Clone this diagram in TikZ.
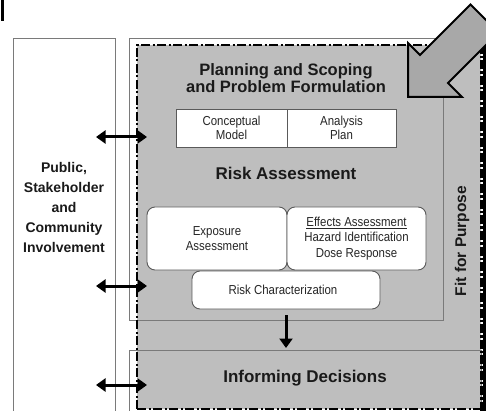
\documentclass[tikz,border=0pt]{standalone}
\usepackage{fontspec}
\setmainfont{Liberation Sans}
\newfontfamily\narrowf[FakeStretch=0.88]{Liberation Sans}
\usetikzlibrary{arrows.meta}
\definecolor{regiongray}{HTML}{BEBEBE}
\definecolor{arrowgray}{HTML}{A8A8A8}
\definecolor{framegray}{HTML}{7A7A7A}
\definecolor{boxline}{HTML}{5A5A5A}
\definecolor{txtdark}{HTML}{1A1A1A}
\definecolor{txtsoft}{HTML}{262626}
\tikzset{
  framebox/.style={draw=framegray, line width=1pt},
  whitebox/.style={draw=boxline, fill=white, line width=0.9pt, inner sep=0pt},
  roundbox/.style={whitebox, rounded corners=8pt},
  smalltext/.style={font=\narrowf\fontsize{13}{14.5}\selectfont, text=txtsoft, align=center},
  boldtext/.style={font=\bfseries\fontsize{17}{17}\selectfont, text=txtdark, align=center},
  dashdotline/.style={line width=2pt, dash pattern=on 9pt off 2.5pt on 2pt off 2.5pt},
  dblarrow/.style={line width=3pt, {Triangle[length=9.5pt,width=13pt]}-{Triangle[length=9.5pt,width=13pt]}},
  downarrow/.style={line width=3pt, -{Triangle[length=9.5pt,width=13pt]}},
  bigarrow/.style={fill=arrowgray, draw=black, line width=2pt, line join=miter}
}
\begin{document}
\begin{tikzpicture}[x=1pt,y=-1pt]
\useasboundingbox (0,0) rectangle (486,411);
% small mark top-left
\draw[line width=2.5pt] (2.5,0) -- (2.5,21);
% left box
\node[draw=framegray, line width=1pt, fill=white, minimum width=102pt, minimum height=380pt, inner sep=0pt, anchor=north west] (pub) at (13,38) {};
\node[font=\bfseries\fontsize{14}{20}\selectfont, text=txtdark, align=center] (pubtext) at (64,207) {Public,\\Stakeholder\\and\\Community\\Involvement};
% gray region
\fill[regiongray] (137,45) rectangle (481,409);
% frames
\node[framebox, minimum width=314pt, minimum height=282pt, inner sep=0pt, anchor=north west] (raframe) at (129,38) {};
\node[framebox, minimum width=352pt, minimum height=70pt, inner sep=0pt, anchor=north west] (idframe) at (129,350) {};
% dash-dot borders
\draw[dashdotline] (137,409) -- (137,45) -- (481,45);
\draw[dashdotline] (137,409) -- (481,409);
\draw[line width=3pt, dash pattern=on 9pt off 2pt on 2.5pt off 2pt] (481.5,45) -- (481.5,411);
\draw[line width=3pt] (484.5,45) -- (484.5,411);
% titles
\node[boldtext, font=\bfseries\fontsize{16.5}{16.5}\selectfont] (plan) at (286,78) {Planning and Scoping\\and Problem Formulation};
\node[boldtext] (ra) at (286,173) {Risk Assessment};
\node[boldtext] (inf) at (305,378) {Informing Decisions};
\node[font=\bfseries\fontsize{15.5}{15.5}\selectfont, text=txtdark, rotate=90] (fit) at (462,241) {Fit for Purpose};
% conceptual model / analysis plan
\node[whitebox, minimum width=111pt, minimum height=38pt] (cm) at (231.5,128) {};
\node[whitebox, minimum width=109pt, minimum height=38pt] (ap) at (341.5,128) {};
\node[smalltext] (cmt) at (231.5,128) {Conceptual\\Model};
\node[smalltext] (apt) at (341.5,128) {Analysis\\Plan};
% assessment boxes
\node[roundbox, minimum width=140pt, minimum height=63pt] (exp) at (217,238.5) {};
\node[smalltext] (expt) at (217,238.5) {Exposure\\Assessment};
\node[roundbox, minimum width=139pt, minimum height=63pt] (eff) at (356.5,238.5) {};
\node[smalltext, font=\narrowf\fontsize{13}{15.5}\selectfont] (efft) at (356.5,238.5) {\underline{Effects Assessment}\\Hazard Identification\\Dose Response};
\node[roundbox, minimum width=188pt, minimum height=38pt] (rc) at (286,290) {};
\node[smalltext] (rct) at (283,290) {Risk Characterization};
% connectors
\coordinate (l1) at (96,137);  \coordinate (r1) at (147,137);
\coordinate (l2) at (96,286);  \coordinate (r2) at (147,286);
\coordinate (l3) at (96,385);  \coordinate (r3) at (147,385);
\draw[dblarrow] (l1) -- (r1);
\draw[dblarrow] (l2) -- (r2);
\draw[dblarrow] (l3) -- (r3);
\coordinate (d1) at (286,315); \coordinate (d2) at (286,348);
\draw[downarrow] (d1) -- (d2);
% big arrow
\begin{scope}
\clip (0,0) rectangle (486,411);
\draw[bigarrow] (408,97) -- (408,43) -- (420,55) -- (470.5,4.5) -- (498.5,32.5) -- (448,83) -- (462,97) -- cycle;
\end{scope}
\end{tikzpicture}
\end{document}
